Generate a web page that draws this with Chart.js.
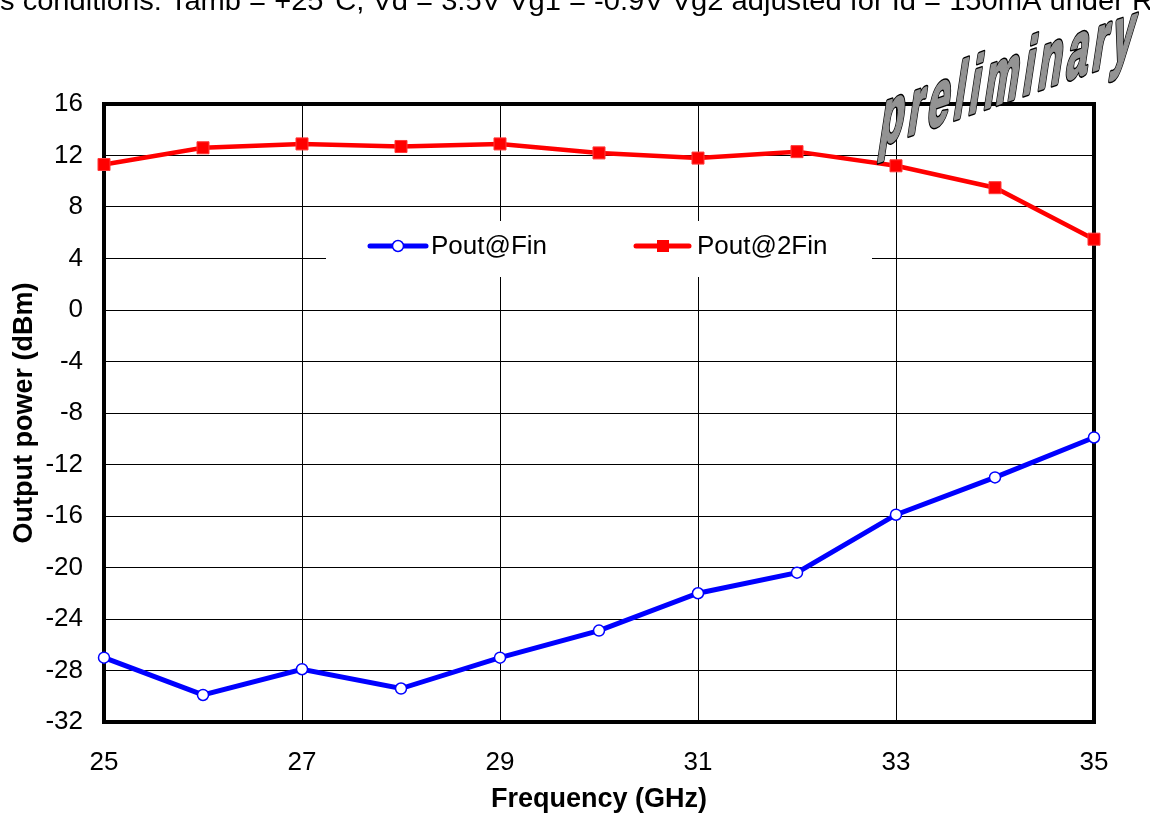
<!DOCTYPE html>
<html>
<head>
<meta charset="utf-8">
<script src="https://cdn.jsdelivr.net/npm/chart.js@4"></script>
<style>
  html, body { margin: 0; padding: 0; background: #ffffff; }
  #c { display: block; }
</style>
</head>
<body>
<canvas id="c" width="1150" height="820"></canvas>
<script>
// ---- data ----
const freqs = [25, 26, 27, 28, 29, 30, 31, 32, 33, 34, 35];
const poutFin = [-27.0, -29.9, -27.9, -29.4, -27.0, -24.9, -22.0, -20.4, -15.9, -13.0, -9.9];
const pout2Fin = [11.3, 12.6, 12.9, 12.7, 12.9, 12.2, 11.8, 12.3, 11.2, 9.5, 5.5];
const seriesNames = ['Pout@Fin', 'Pout@2Fin'];
const xTitle = 'Frequency (GHz)';
const yTitle = 'Output power (dBm)';
const headerText = 'Bias conditions: Tamb = +25°C, Vd = 3.5V Vg1 = -0.9V Vg2 adjusted for Id = 150mA under RF';
const watermarkText = 'preliminary';
const xMin = 25, xMax = 35, xStep = 2;
const yMin = -32, yMax = 16, yStep = 4;

const FONT = "'Liberation Sans', Arial, sans-serif";

const decorPlugin = {
  id: 'decor',
  beforeDatasetsDraw(chart) {
    const { ctx, chartArea: a } = chart;
    ctx.save();
    // legend box (white, covers gridlines)
    ctx.fillStyle = '#ffffff';
    ctx.fillRect(326, 221, 546, 56);
    // frame
    ctx.strokeStyle = '#000000';
    ctx.lineWidth = 4;
    ctx.strokeRect(a.left, a.top, a.right - a.left, a.bottom - a.top);
    // legend entries
    const ly = 246;
    ctx.lineCap = 'round';
    ctx.strokeStyle = '#0000ff';
    ctx.lineWidth = 5;
    ctx.beginPath(); ctx.moveTo(370, ly); ctx.lineTo(426, ly); ctx.stroke();
    ctx.fillStyle = '#ffffff';
    ctx.lineWidth = 1.5;
    ctx.beginPath(); ctx.arc(398, ly, 5.5, 0, Math.PI * 2); ctx.fill(); ctx.stroke();
    ctx.strokeStyle = '#ff0000';
    ctx.lineWidth = 5;
    ctx.beginPath(); ctx.moveTo(636, ly); ctx.lineTo(689, ly); ctx.stroke();
    ctx.fillStyle = '#ff0000';
    ctx.fillRect(657, ly - 6, 12, 12);
    ctx.fillStyle = '#000000';
    ctx.font = '26px ' + FONT;
    ctx.textBaseline = 'middle';
    ctx.textAlign = 'left';
    ctx.fillText(seriesNames[0], 431, ly + 1);
    ctx.fillText(seriesNames[1], 697, ly + 1);
    ctx.restore();
  },
  afterDraw(chart) {
    const { ctx } = chart;
    ctx.save();
    // clipped header text
    ctx.font = "27px 'Liberation Sans Narrow', 'Liberation Sans', Arial, sans-serif";
    ctx.fillStyle = '#000000';
    ctx.textBaseline = 'alphabetic';
    ctx.textAlign = 'left';
    const visiblePart = 's conditions: Tamb = +25°C, Vd = 3.5V Vg1 = -0.9V Vg2 adjusted for Id = 150mA under ';
    const sx = 1132 / ctx.measureText(visiblePart).width;
    const offs = ctx.measureText('Bia').width;
    ctx.save();
    ctx.translate(0, 10);
    ctx.scale(sx, 1);
    ctx.fillText(headerText, -offs, 0);
    ctx.restore();

    // watermark
    ctx.font = "bold 82px 'Liberation Sans Narrow', 'Liberation Sans', Arial, sans-serif";
    ctx.letterSpacing = '10px';
    const w = ctx.measureText(watermarkText).width;
    const k = 258 / w;
    ctx.save();
    ctx.transform(1, -0.35, -0.15, 1, 878, 146);
    ctx.scale(k, 1);
    ctx.lineJoin = 'round';
    ctx.strokeStyle = '#000000';
    ctx.lineWidth = 5.5;
    ctx.strokeText(watermarkText, 0, 0);
    ctx.strokeStyle = '#939393';
    ctx.fillStyle = '#939393';
    ctx.lineWidth = 2.5;
    ctx.strokeText(watermarkText, 0, 0);
    ctx.fillText(watermarkText, 0, 0);
    ctx.restore();
    ctx.letterSpacing = '0px';
    ctx.restore();
  }
};

new Chart(document.getElementById('c'), {
  type: 'line',
  data: {
    datasets: [
      {
        label: seriesNames[0],
        data: freqs.map((f, i) => ({ x: f, y: poutFin[i] })),
        borderColor: '#0000ff',
        borderWidth: 5,
        pointStyle: 'circle',
        pointRadius: 5.5,
        pointBackgroundColor: '#ffffff',
        pointBorderColor: '#0000ff',
        pointBorderWidth: 1.5,
        tension: 0,
        clip: false
      },
      {
        label: seriesNames[1],
        data: freqs.map((f, i) => ({ x: f, y: pout2Fin[i] })),
        borderColor: '#ff0000',
        borderWidth: 4.5,
        pointStyle: 'rect',
        pointRadius: 8.5,
        pointBackgroundColor: '#ff0000',
        pointBorderColor: '#ff3a3a',
        pointBorderWidth: 1,
        tension: 0,
        clip: false
      }
    ]
  },
  options: {
    responsive: false,
    animation: false,
    devicePixelRatio: 1,
    layout: { padding: { top: 104, right: 56, left: 0, bottom: 0 } },
    plugins: { legend: { display: false }, tooltip: { enabled: false }, title: { display: false } },
    scales: {
      x: {
        type: 'linear',
        min: xMin, max: xMax,
        afterFit(s) { s.height = 98; },
        afterBuildTicks(s) {
          const t = [];
          for (let v = xMin; v <= xMax; v += xStep) t.push({ value: v });
          s.ticks = t;
        },
        ticks: { color: '#000000', font: { family: FONT, size: 26 }, padding: 25, maxRotation: 0 },
        grid: { color: '#000000', lineWidth: 1, drawTicks: false },
        border: { display: false },
        title: { display: true, text: xTitle, color: '#000000', font: { family: FONT, size: 27, weight: 'bold' }, padding: { top: 0, bottom: 4 } }
      },
      y: {
        type: 'linear',
        min: yMin, max: yMax,
        afterFit(s) { s.width = 104; },
        ticks: { stepSize: yStep, color: '#000000', font: { family: FONT, size: 26 }, padding: 21 },
        grid: { color: '#000000', lineWidth: 1, drawTicks: false },
        border: { display: false },
        title: { display: true, text: yTitle, color: '#000000', font: { family: FONT, size: 27, weight: 'bold' }, padding: { top: 8, bottom: 0 } }
      }
    }
  },
  plugins: [decorPlugin]
});
</script>
</body>
</html>
